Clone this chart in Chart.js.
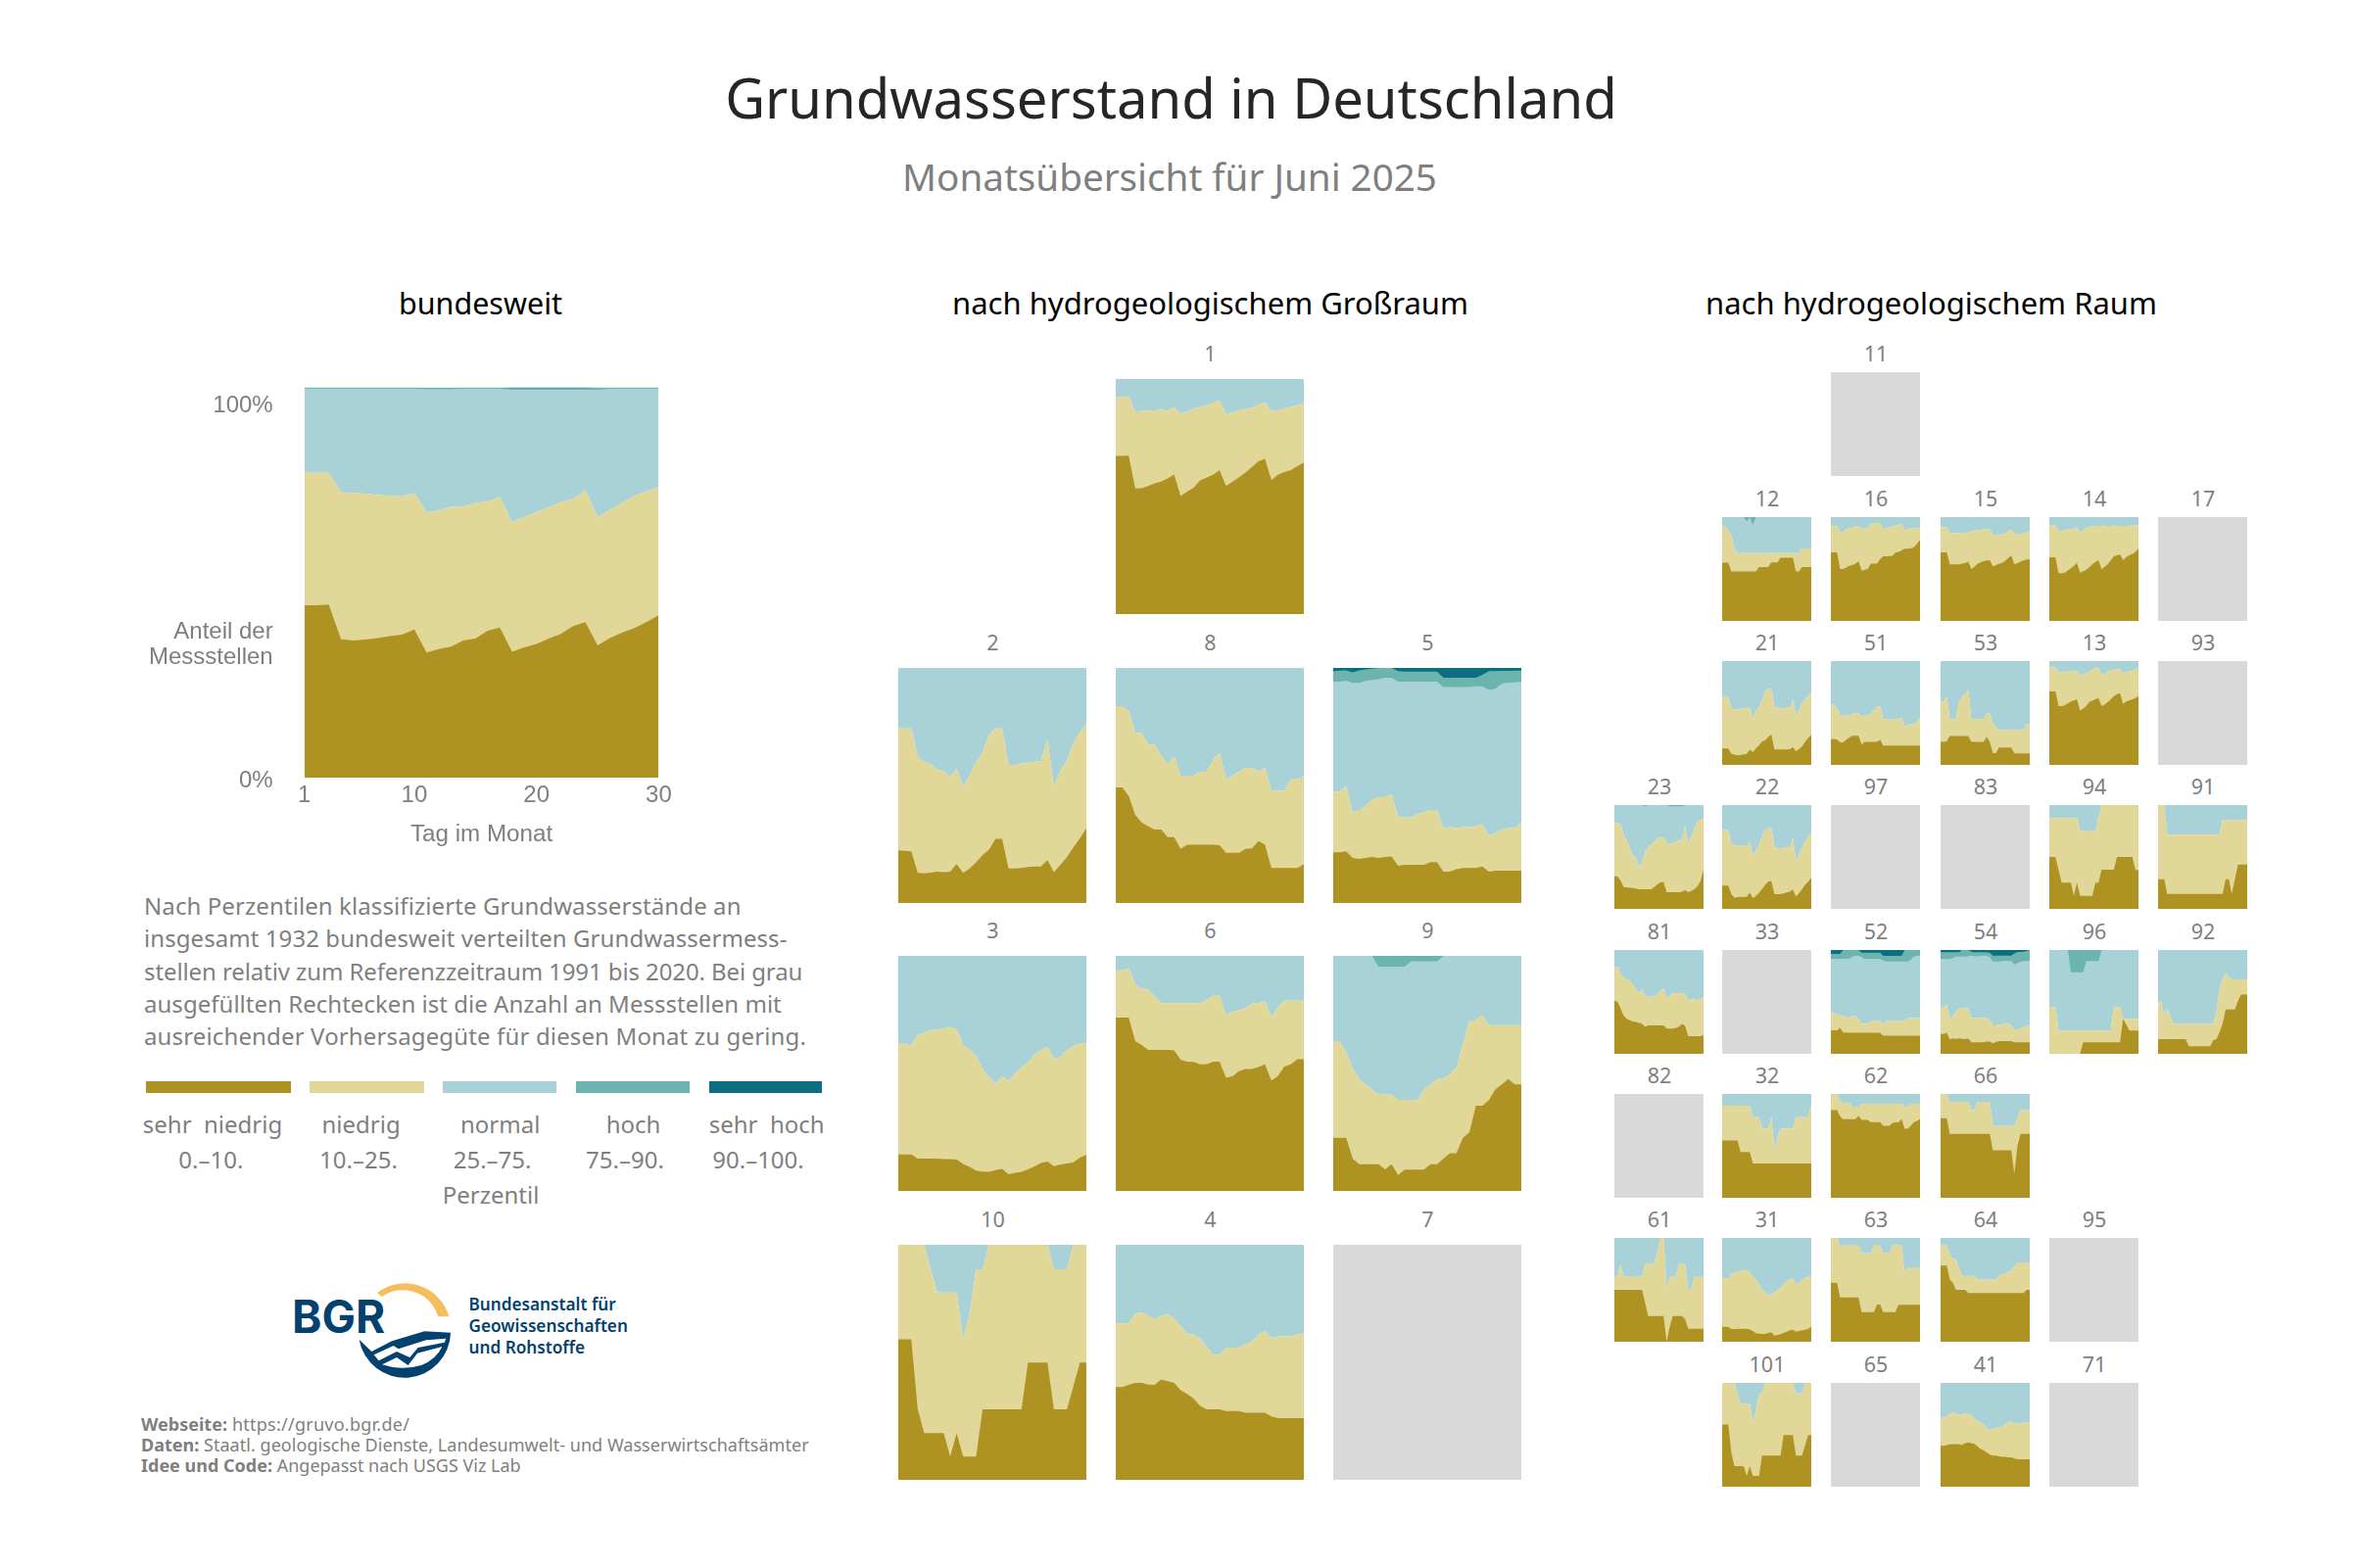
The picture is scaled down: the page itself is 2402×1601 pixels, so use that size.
<!DOCTYPE html>
<html lang="de"><head><meta charset="utf-8"><title>Grundwasserstand in Deutschland</title>
<script src="https://cdn.jsdelivr.net/npm/chart.js@4"></script>
<style>
html,body{margin:0;padding:0;background:#fff}
#page{position:relative;width:2402px;height:1601px;overflow:hidden;background:#fff;font-family:"Noto Sans",sans-serif;color:#7f7f7f}
#page canvas{position:absolute;display:block}
.t{position:absolute;white-space:pre;line-height:1;transform:translate(-50%,-50%)}
.l{position:absolute;white-space:pre;line-height:1;transform:translateY(-50%)}
.bar{position:absolute}
</style></head><body><div id="page"></div>
<script>
// Days of the month
const days = [1,2,3,4,5,6,7,8,9,10,11,12,13,14,15,16,17,18,19,20,21,22,23,24,25,26,27,28,29,30];
// Cumulative share of stations in % per day. a: up to "sehr niedrig", b: up to "niedrig", c: up to "normal", d: up to "hoch".
const natA = [44.2,44.2,44.4,35.5,35.2,35.4,35.8,36.3,36.7,38.0,32.1,33.0,33.6,35.2,35.7,37.7,38.5,32.3,33.4,34.3,35.7,36.9,38.9,39.9,33.9,35.8,37.2,38.4,39.9,41.7];
const natB = [78.1,78.1,78.1,73.1,72.9,72.8,72.4,72.2,72.1,72.9,68.0,68.4,69.5,69.5,70.4,70.8,71.9,65.5,66.7,68.0,69.3,70.6,71.4,73.7,66.7,68.6,70.4,72.2,73.3,74.5];
const natC = [99.6,99.6,99.6,99.6,99.6,99.6,99.6,99.6,99.6,99.6,99.5,99.5,99.5,99.6,99.6,99.6,99.6,99.4,99.4,99.4,99.4,99.4,99.4,99.4,99.4,99.6,99.6,99.6,99.6,99.6];
const natD = [100,100,100,100,100,100,100,100,100,100,100,100,100,100,100,100,100,99.8,99.8,99.8,99.8,99.8,99.8,99.8,100,100,100,100,100,100];

const m1a = [67.3,67.3,67.4,53.4,53.5,54.5,55.6,56.4,57.7,59.4,50.2,52.1,53.7,56.9,58.0,59.3,61.3,54.5,56.4,58.1,60.2,62.5,65.0,66.0,57.0,59.3,60.4,61.3,62.9,64.5];
const m1b = [92.2,92.3,92.5,86.1,86.4,86.7,86.7,86.9,86.6,87.9,85.0,86.1,87.5,88.0,88.8,89.8,90.9,84.8,85.8,86.7,87.2,87.7,89.0,90.1,86.4,86.7,87.5,88.2,88.8,89.8];
const m2a = [22.4,22.2,22.0,12.8,12.6,12.9,13.3,13.1,13.3,16.6,12.8,14.7,17.3,20.4,22.7,27.3,27.3,14.7,14.7,14.9,15.3,15.5,15.5,18.2,13.1,16.3,19.5,23.6,27.5,31.9];
const m2b = [74.3,74.3,74.3,62.3,59.9,59.1,56.7,56.2,53.5,57.2,49.5,54.3,59.9,64.2,71.6,74.3,74.3,58.8,58.8,59.4,59.9,60.1,60.4,69.5,49.8,56.2,60.7,67.9,72.7,75.9];
const m8a = [49.2,49.2,45.5,37.5,34.3,32.6,31.3,31.2,28.0,28.0,23.0,24.8,24.8,24.8,24.8,24.8,24.6,21.4,21.4,21.4,23.0,23.2,26.4,24.8,14.9,14.9,14.9,14.9,14.9,16.5];
const m8b = [83.7,83.7,81.8,72.5,72.2,67.4,67.3,62.6,59.4,62.3,54.2,54.2,54.2,55.8,55.8,60.7,63.9,52.7,54.3,55.9,57.5,57.5,55.9,57.5,47.9,47.8,47.8,52.6,52.6,54.0];
const m5a = [21.6,21.6,22.0,19.2,18.7,19.2,19.6,19.2,19.6,19.8,15.8,16.3,16.3,16.3,16.3,17.4,17.4,13.3,13.3,14.4,14.9,14.9,14.9,15.5,13.3,13.7,13.7,13.7,13.7,13.7];
const m5b = [47.3,47.3,49.8,38.5,39.3,41.2,43.9,45.0,45.0,46.2,36.6,36.6,36.4,37.9,38.5,39.6,39.6,31.8,32.3,31.9,32.3,32.3,32.7,33.5,28.9,29.6,31.2,31.9,31.9,34.0];
const m5c = [94.2,94.2,94.6,93.6,93.6,94.6,94.9,95.2,95.8,95.8,94.2,94.2,94.2,94.2,94.2,94.2,94.2,91.9,91.9,91.9,91.9,91.9,92.2,92.2,90.6,91.1,93.3,93.8,93.9,94.2];
const m5d = [98.6,98.9,99.0,98.1,99.0,99.4,99.7,100,100,100,98.6,98.4,98.4,98.4,98.4,98.4,98.4,95.8,95.8,95.8,95.8,95.8,95.8,97.1,98.6,98.6,98.7,98.7,98.9,98.9];
const m3a = [15.5,15.5,15.5,13.7,13.7,13.8,13.7,13.5,13.5,13.3,11.5,10.2,8.6,8.2,8.1,8.9,9.4,7.1,7.7,8.1,9.2,10.4,11.9,12.5,10.5,11.2,11.7,12.2,14.2,15.3];
const m3b = [62.6,62.6,61.9,66.6,67.2,68.4,68.4,69.2,69.7,68.7,62.1,60.0,57.5,51.7,48.4,45.5,48.8,46.8,49.8,52.6,54.7,58.0,60.0,61.4,56.2,57.0,60.0,61.6,62.6,62.9];
const m6a = [73.8,73.8,73.8,63.8,62.1,60.0,60.0,60.0,60.0,59.8,55.8,55.0,54.9,53.9,53.9,55.0,55.0,48.1,48.8,50.9,51.9,51.9,52.7,53.9,47.0,48.9,52.9,53.9,56.0,56.0];
const m6b = [93.9,93.9,94.7,88.0,86.0,85.8,82.7,79.9,79.9,79.9,79.9,79.9,79.9,79.9,81.1,83.0,83.0,75.1,76.1,76.9,77.8,79.7,79.9,80.7,74.0,78.1,80.9,80.9,80.9,80.9];
const m9a = [22.6,22.6,22.6,13.8,11.4,11.4,11.4,11.4,9.2,11.4,6.8,9.1,9.1,9.1,9.1,11.4,11.4,13.7,16.0,16.0,22.6,24.9,36.2,36.2,38.6,43.2,45.3,47.6,45.3,45.3];
const m9b = [63.4,63.4,59.1,52.1,47.6,45.1,43.2,40.9,40.9,40.9,38.7,38.7,38.7,38.7,43.2,45.1,47.6,47.6,49.8,52.2,62.4,72.5,72.5,74.8,70.5,70.5,70.5,70.5,70.5,70.5];
const m9c = [100,100,100,100,100,100,100,95.4,95.4,95.4,95.4,95.4,97.7,97.7,97.7,97.7,97.7,100,100,100,100,100,100,100,100,100,100,100,100,100];
const m10a = [59.8,59.8,59.8,30.0,19.9,19.9,19.9,19.9,9.9,19.9,9.9,9.9,9.9,30.0,30.0,30.0,30.0,30.0,30.0,30.0,49.9,49.9,49.9,49.9,30.0,30.0,30.0,39.9,49.9,49.9];
const m10b = [100,100,100,100,100,89.6,79.7,79.7,79.7,79.7,60.0,70.7,89.6,89.6,100,100,100,100,100,100,100,100,100,100,89.6,89.6,89.6,100,100,100];
const m4a = [39.5,39.5,40.4,41.2,41.2,40.5,40.4,42.7,42.0,41.2,38.1,36.6,34.6,31.5,30.0,30.0,30.0,29.3,29.3,29.3,28.5,28.5,28.5,28.5,27.0,26.2,26.2,26.2,26.2,26.2];
const m4b = [66.6,66.6,66.6,70.7,71.2,69.9,68.2,69.9,70.3,68.7,65.4,62.4,61.9,60.0,56.7,53.2,53.2,56.2,56.2,56.2,57.8,58.8,61.8,63.3,60.3,61.0,61.1,61.1,61.8,62.4];

const s12a = [56.1,56.1,56.1,47.6,47.6,47.6,47.6,47.6,47.6,47.6,47.6,47.6,52,52,52,52,56.4,56.4,56.4,60.8,60.8,60.8,60.8,60.8,47.6,47.6,52,52,52,52];
const s12b = [91.2,91.2,86.8,82.7,69.5,65.4,65.4,65.4,65.4,65.4,65.4,65.4,65.4,65.4,65.4,65.4,65.4,65.4,65.4,65.4,65.4,65.4,65.4,65.4,65.4,65.4,69.8,69.8,69.8,69.8];
const s12c = [100,100,100,100,100,100,100,100,95.9,100,92.1,100,100,100,100,100,100,100,100,100,100,100,100,100,100,100,100,100,100,100];
const s16a = [66,66,66,50,50,51.3,53.1,53.8,55.3,57.5,48.4,49.4,50,55.3,55.3,55.3,59.4,62.3,62.3,62.6,62.6,65.7,66.4,67.9,69.5,69.5,69.8,71.1,74.2,78];
const s16b = [91.2,91.2,91.2,85.2,86.2,88.4,89.3,89.9,91.5,90.9,89,89,89.3,93.1,94,94.3,94.3,88.4,89.3,89.9,90.9,91.8,92.5,93.7,87.4,88.4,89.3,89.3,89.3,89.3];
const s15a = [66,66,66,54.4,54.4,54.4,54.4,55.3,56,57,50,52.2,55,56.3,57.6,58.2,58.5,52.5,53.8,55,56,57.9,60.7,62.9,54.4,55.7,57,58.2,59.1,59.1];
const s15b = [90.3,90.3,90.3,84.6,84.6,84.6,84.6,84.9,84.9,85.2,85.8,87.1,87.4,87.7,88.1,88.4,88.4,82.7,83,83.3,83.3,84.6,86.5,87.4,84,84,84,84.3,85.2,86.5];
const s14a = [61.3,61.3,61.3,45.9,45.9,46.5,48.4,50.6,53.1,56,46.5,47.8,49,51.9,54.4,56.9,58.5,49.7,52.2,54.4,58.5,62.3,63.2,63.9,58.5,61.3,63.2,64.5,66.4,69.5];
const s14b = [92.1,92.1,92.1,86.8,86.8,87.4,88.1,88.4,89,90.3,84.9,87.4,89.9,90.6,91.2,91.5,91.5,91.5,91.8,91.5,91.5,91.8,91.5,91.5,91.5,91.5,91.8,91.8,92.1,92.1];
const s21a = [15.8,15.8,15.8,10.7,9.8,9.1,9.5,10.1,10.7,14.8,12.3,15.8,18.9,22.7,23.7,26.8,29.3,14.8,14.8,14.8,14.8,14.8,15.1,17,13.2,15.1,17.9,22.1,25.9,29];
const s21b = [65.3,65.3,65.3,54.3,53.6,53.6,53.9,54.6,54.9,54.9,45.7,51.1,55.8,62.1,70.7,73.2,73.8,55.5,54.9,54.6,54.6,54.9,55.5,63.1,47.9,52.7,59,63.1,66.2,70];
const s51a = [24.9,24.9,24.3,21.8,21.8,24.3,26.5,28.1,28.1,28.1,19.6,22.1,22.1,22.1,22.1,22.1,24.3,18.6,18.6,18.6,18.6,18.6,18.6,18.6,18.6,18.6,18.6,18.6,18.6,18.6];
const s51b = [59,58,54.3,47.3,47.3,47.3,47.3,49,50.2,49.6,47.3,47.3,47.3,49.6,52.7,55.9,56.5,43.8,43.8,43.8,43.8,43.8,43.8,45.5,37.5,38.5,39.1,39.4,41.6,45.7];
const s53a = [22.1,22.1,22.7,27.8,27.8,27.8,27.8,27.8,27.8,27.8,22.4,22.1,22.1,22.1,22.1,27.1,22.1,11.4,11.4,16.7,16.7,16.7,16.7,16.7,11,11,11,11,11,11];
const s53b = [61.2,61.2,66.2,44.2,44.2,44.2,60.3,66.2,67.4,72.2,44.2,44.2,44.2,44.2,44.2,49.8,49.8,39.4,36.3,33.4,33.4,33.4,33.4,33.4,33.4,33.4,33.4,33.4,39.1,39.1];
const s13a = [70.7,70.7,70.7,56.5,56.5,57.4,59.3,61.2,62.1,63.1,52.1,54.3,56.5,60.6,61.8,63.1,64.4,56.5,58,60.6,63.1,66.2,68.1,69.1,58.4,61.2,62.1,63.1,64.4,66.2];
const s13b = [94.6,94.6,94,89.6,89.6,89.9,89.9,89.9,90.2,90.5,86.1,87.1,88.3,89.9,91.5,93.1,93.7,86.4,88,89.9,90.5,91.5,92.4,92.7,88.3,89.3,90.2,90.9,92.1,93.7];
const s23a = [31.4,31.4,27.3,21.1,20.8,20.4,20.1,19.5,18.9,18.9,18.9,18.9,18.9,21.1,23.6,25.8,25.8,16,16,16,16,16,16.4,18.2,16,17.3,18.9,21.7,26.7,37.7];
const s23b = [82.7,82.7,81.8,70.8,66,58.2,51.3,49.4,40.6,44,55,60.4,61.3,65.1,67.6,68.9,68.9,62.9,62.9,63.5,65.1,65.7,66.4,80.2,63.5,69.2,77,84,85.8,87.1];
const s23c = [100,100,100,100,100,100,100,100,100,100,98.9,100,100,100,100,100,100,100,98.9,98.9,98.9,98.9,98.9,100,100,100,100,100,100,100];
const s22a = [22.3,22.3,22.3,14.2,10.7,11.3,11.6,11.6,11.6,15.7,10.4,12.6,15.4,19.2,23,26.4,26.7,14.2,14.2,14.2,14.8,15.7,16.4,18.6,11.9,15.1,18.9,23,26.1,29.9];
const s22b = [76.1,76.1,75.5,62.9,60.7,61.3,61.3,60.7,60.4,64.5,51.3,56.6,61.3,69.2,75.5,77.7,77.7,59.1,58.5,58.5,58.8,59.1,59.4,68.2,45.6,51.9,58.8,64.5,69.2,73];
const s94a = [50,50,50,37.7,25.2,25.2,25.2,25.2,12.6,25.2,12.6,12.6,12.6,12.6,12.6,25.2,25.2,37.7,37.7,37.7,37.7,37.7,50,50,50,50,50,50,37.4,37.4];
const s94b = [87.4,87.4,87.4,87.4,87.4,87.4,87.4,87.4,87.4,87.4,74.8,74.8,74.8,74.8,74.8,74.8,87.4,100,100,100,100,100,100,100,100,100,100,100,100,100];
const s91a = [28.6,28.6,28.6,14.5,14.5,14.5,14.5,14.5,14.5,14.5,14.5,14.5,14.5,14.5,14.5,14.5,14.5,14.5,14.5,14.5,14.5,14.5,28.6,28.6,14.5,28.6,42.8,42.8,42.8,42.8];
const s91b = [100,100,100,71.4,71.4,71.4,71.4,71.4,71.4,71.4,71.4,71.4,71.4,71.4,71.4,71.4,71.4,71.4,71.4,71.4,71.4,85.5,85.5,85.5,85.5,85.5,85.5,85.5,85.5,85.5];
const s81a = [51.1,50.2,43.8,36.9,33.8,32.2,31.2,30.6,29.7,29.1,25.9,27.4,27.4,27.4,27.4,27.4,27.4,24.3,24.3,24.3,24.9,26.2,28.7,26.8,17,17,17,17,17,18];
const s81b = [83.6,83.6,77.9,72.9,71.6,70,66.9,62.1,58.4,62.1,54.9,54.9,54.9,55.2,57.4,60.6,63.1,53.3,55.8,58,58.4,58.4,58,57.7,51.1,52.1,53.3,51.1,52.7,53.6];
const s52a = [22.7,22.7,22.7,24.9,20.5,20.2,20.2,20.2,20.2,20.2,20.2,20.2,20.2,20.2,20.2,20.2,20.2,17.4,17.4,17.4,17.4,17.4,17.4,17.4,17.4,17.4,17.4,17.4,17.4,17.4];
const s52b = [40.1,39.1,38.2,36.9,36.3,35.3,35,36.9,36,33.8,29,29,29,31.2,31.5,31.5,31.5,28.4,31.5,31.5,31.5,31.5,31.5,31.5,31.5,34.4,34.4,34.4,34.4,34.4];
const s52c = [91.5,91.5,91.5,91.5,91.5,91.5,91.8,93.7,94.6,94.6,93.1,91.5,91.5,91.5,91.5,91.5,91.5,89.9,89,89,89,89,89,89,89,89,90.5,93.7,94.6,94.6];
const s52d = [96.2,96.2,96.2,96.2,100,100,100,100,100,100,97.5,97.5,97.5,97.5,97.5,97.5,97.5,94.3,94.3,94.3,94.3,94.3,94.3,94.3,100,100,100,100,100,100];
const s54a = [19.2,19.2,20.2,13.9,14.8,14.5,14.8,14.5,14.2,14.8,11,11,11,11,11,11.7,11.7,10.1,11.4,12.3,12.3,12.3,12.3,12.3,11,11,11,11,11,11];
const s54b = [43.2,44.8,47.3,33.8,35.3,41,43.2,43.8,43.8,43.8,34.4,34.4,34.4,34.4,34.4,34.4,31.9,27.4,27.4,28.1,28.4,29,29.7,27.4,22.7,23.7,24.3,25.6,26.5,27.4];
const s54c = [91.5,91.5,91.2,91.5,92.1,93.7,93.7,93.7,93.7,94,94.6,94,93.7,94.3,94.6,94.6,93.1,89,89,89,89.3,89.3,89.6,89.3,86.1,87.4,88.6,89.3,89.3,89.6];
const s54d = [97.8,97.8,97.8,97.8,97.8,97.8,97.8,100,100,100,98.4,97.8,97.8,97.8,97.8,97.8,97.5,94.6,94.6,94.6,94.6,94.6,94.6,94.6,96.8,98.1,98.1,98.4,99,100];
const s96a = [0,0,0,0,0,0,0,0,0,0,0,11,11,11,11,11,11,11,11,11,11,11,11,11,33.8,28.4,22.4,22.4,22.4,22.4];
const s96b = [44.8,44.8,44.8,22.4,22.4,22.4,22.4,22.4,22.4,22.4,22.4,22.4,22.4,22.4,22.4,22.4,22.4,22.4,22.4,22.4,22.4,44.8,44.8,44.8,33.8,33.8,33.8,33.8,33.8,33.8];
const s96c = [100,100,100,100,100,100,100,78.5,78.5,78.5,78.5,78.5,89.3,89.3,89.3,89.3,89.3,100,100,100,100,100,100,100,100,100,100,100,100,100];
const s92a = [14.2,14.2,14.2,14.2,14.2,14.2,14.2,14.2,14.2,14.2,7.3,7.3,7.3,7.3,7.3,7.3,7.3,7.3,13.2,14.2,21.1,29,42.6,42.6,42.6,42.6,51,57.1,57.1,57.1];
const s92b = [50.2,50.2,37.5,43.2,35.3,29,29,29,29,29,29,29,29,29,29,29,29,29,29,40,62.1,71.6,77.9,73.2,71.6,71.6,71.6,71.6,71.6,71.6];
const s32a = [55.2,55.2,55.2,55.2,55.2,55.2,44.2,44.2,44.2,44.2,33.1,33.1,33.1,33.1,33.1,33.1,33.1,33.1,33.1,33.1,33.1,33.1,33.1,33.1,33.1,33.1,33.1,33.1,33.1,33.1];
const s32b = [88.6,88.6,88.6,88.6,88.6,88.6,88.6,88.6,88.6,88.6,77.6,77.6,77.6,66.6,66.6,66.6,77.6,46.7,57.7,66.6,66.6,66.6,66.6,66.6,77.6,77.6,77.6,77.6,77.6,88.6];
const s62a = [84.5,84.5,84.5,78.2,75.7,75.7,75.7,75.7,75.7,78.9,75.1,75.1,75.1,72.9,72.9,72.9,72.9,69.4,69.4,69.4,71.9,72.6,72.6,75.7,66.6,66.6,69.4,72.6,74.1,75.7];
const s62b = [100,100,100,92.4,91.5,91.5,91.5,87.7,87.7,87.7,90.5,90.5,90.5,90.5,90.5,90.5,90.5,90.5,90.5,90.5,90.5,90.5,90.5,90.5,87.7,87.7,90.5,90.5,90.5,90.5];
const s66a = [76.7,76.7,76.7,61.5,61.5,61.5,61.5,61.5,61.5,61.5,61.5,61.5,61.5,61.5,61.5,61.5,61.5,45.7,45.7,45.7,45.7,45.7,45.7,45.7,23,49.8,61.5,61.5,61.5,61.5];
const s66b = [100,100,100,92.4,92.4,92.4,92.4,92.4,92.4,92.4,84.5,84.5,92.4,92.4,92.4,92.4,92.4,69.1,69.1,69.1,69.1,69.1,69.1,69.1,69.1,76.7,84.5,84.5,84.5,84.5];
const s61a = [50,50,50,50,50,50,50,50,50,50,37.4,24.8,24.8,24.8,24.8,24.8,24.8,0,14.5,24.8,24.8,24.8,24.8,21.7,12.6,12.6,12.6,12.6,12.6,12.6];
const s61b = [62.6,62.6,74.2,62.6,62.6,62.6,62.6,62.6,62.6,62.6,74.8,74.8,74.8,74.8,86.8,100,100,50.6,62.6,62.6,62.6,74.8,74.8,74.8,50,50,62.6,62.6,62.6,62.6];
const s31a = [14.5,14.5,14.5,12.3,12.3,12.6,12.6,12.6,12.6,11.9,10.4,8.2,7.9,7.5,7.5,8.5,9.1,6,6.6,7.2,8.5,9.7,11,11.6,9.7,10.4,11,11.6,12.6,14.5];
const s31b = [61,61,60.4,65.4,67,67.2,68.2,68.9,69.2,67,62.6,60.1,55.3,50.5,47.2,45.2,46.8,47.2,49.8,52,55.3,58.5,60.1,61,55.3,56.3,59.4,61.6,62.6,62.6];
const s63a = [56.9,56.9,56.9,42.8,42.8,42.8,42.8,42.8,42.8,42.8,28.6,28.6,28.6,28.6,28.6,35.8,35.8,28.6,28.6,28.6,28.6,28.6,35.5,35.5,35.5,35.5,35.5,35.5,35.5,35.5];
const s63b = [100,100,100,92.8,92.8,92.8,92.8,92.8,92.8,92.8,85.2,85.2,85.2,85.2,92.8,92.8,92.8,85.2,85.2,85.2,92.8,92.8,92.8,92.8,66.4,71.1,71.1,71.1,71.1,71.1];
const s64a = [73.3,73.3,73.3,60,56.9,50,50,50,50,46.9,46.9,46.9,46.9,46.9,46.9,46.9,46.9,46.9,46.9,46.9,46.9,46.9,46.9,46.9,46.9,46.9,46.9,46.9,50,50];
const s64b = [92.8,92.8,92.8,83.6,79.9,79.6,69.8,63.5,63.5,63.5,63.5,63.5,60,60,60,60,60,60,60,63.5,64.8,65.7,67.3,68.9,72,76.4,76.4,76.4,76.4,76.4];
const s101a = [59.9,59.9,59.9,32.5,19.9,19.9,19.9,19.9,10.4,19.9,10.4,10.4,10.4,30,30,30,30,30,30,30,49.8,49.8,49.8,49.8,30,30,30,40,49.8,49.8];
const s101b = [100,100,100,100,100,89.9,79.8,79.8,79.8,79.8,61.8,73.5,89.9,89.9,100,100,100,100,100,100,100,100,100,100,89.9,89.9,89.9,100,100,100];
const s41a = [39.4,39.4,40,40.7,41,41,40.7,40.4,42,42.6,42,41.3,38.9,36.3,35,33.1,30.9,29.9,29.9,29.3,28.7,28.7,28.4,28.4,27.1,26.5,26.5,26.5,26.5,26.5];
const s41b = [66.2,66.2,67.2,70.3,71.6,70.3,69.4,69.7,70.3,70,68.8,65.6,63.4,61.5,59.6,57.1,53.9,56.1,56.8,57.1,57.7,59.9,62.5,62.8,60.9,60.9,61.2,61.5,62.1,62.5];

// Axis tick labels
const yTickValues = [-0.7, 34, 95.2];
const yTickLabels = ['0%', ['Anteil der','Messstellen'], '100%'];
const xTickDays = [1, 10, 20, 30];
// Legend
const classNames = ['sehr  niedrig','niedrig','normal','hoch','sehr  hoch'];
const classRanges = ['0.–10.','10.–25.','25.–75.','75.–90.','90.–100.'];
const classColors = ['#ae9322','#e0d798','#a9d2d8','#6cb5ae','#0b6f81'];

const page = document.getElementById('page');
const GREY = '#d9d9d9', TXT = '#7f7f7f';
function text(cls, s, x, y, size, extra){
  const d = document.createElement('div');
  d.className = cls; d.textContent = s;
  d.style.left = x+'px'; d.style.top = y+'px'; d.style.fontSize = size+'px';
  if (extra) Object.assign(d.style, extra);
  page.appendChild(d); return d;
}
function rich(parts, x, y, size){
  const d = document.createElement('div');
  d.className = 'l'; d.style.left = x+'px'; d.style.top = y+'px'; d.style.fontSize = size+'px';
  parts.forEach(p => { const s = document.createElement('span'); s.textContent = p[0]; if (p[1]) s.style.fontWeight = 700; if (p[2]) s.style.letterSpacing = p[2]+'px'; d.appendChild(s); });
  page.appendChild(d);
}
function datasets(a, b, c, d){
  const line = {borderWidth:0, pointRadius:0, tension:0};
  const out = [
    {...line, data:a, fill:'origin', backgroundColor:classColors[0], order:1},
    {...line, data:b, fill:'origin', backgroundColor:classColors[1], order:2},
    {...line, data:b, fill:'end', backgroundColor:classColors[2], order:5}
  ];
  if (c) out.push({...line, data:c, fill:'end', backgroundColor:classColors[3], order:4});
  if (d) out.push({...line, data:d, fill:'end', backgroundColor:classColors[4], order:3});
  return out;
}
const greyPlugin = {id:'noData', beforeDraw(ch, args, o){
  if (!o.on) return; const a = ch.chartArea; ch.ctx.fillStyle = GREY; ch.ctx.fillRect(a.left, a.top, a.width, a.height);
}};
Chart.register(greyPlugin);
function panel(label, x, y, w, h, series, labelDy, labelSize){
  const c = document.createElement('canvas');
  c.width = w; c.height = h; c.style.left = x+'px'; c.style.top = y+'px'; c.style.width = w+'px'; c.style.height = h+'px';
  page.appendChild(c);
  new Chart(c, {type:'line',
    data:{labels:days, datasets: series ? datasets(...series) : []},
    options:{responsive:false, animation:false, devicePixelRatio:1,
      layout:{padding:0},
      plugins:{legend:{display:false}, tooltip:{enabled:false}, noData:{on:!series}},
      scales:{x:{display:false, type:'category'}, y:{display:false, min:0, max:100}}}});
  text('t', label, x+w/2+0.5, y-labelDy, labelSize);
}

// Headings
text('t','Grundwasserstand in Deutschland',1195.5,99,56.2,{color:'#262626'});
text('t','Monatsübersicht für Juni 2025',1194,180,38.6,{color:TXT});
text('t','bundesweit',490.5,308.5,30.5,{color:'#000'});
text('t','nach hydrogeologischem Großraum',1235.5,308.5,31,{color:'#000'});
text('t','nach hydrogeologischem Raum',1971.5,308.5,31,{color:'#000'});

// National chart
(function(){
  const L=140, T=385, W=580, H=500;
  const c = document.createElement('canvas');
  c.width=W; c.height=H; c.style.left=L+'px'; c.style.top=T+'px'; c.style.width=W+'px'; c.style.height=H+'px';
  page.appendChild(c);
  const tf = {family:'"Liberation Sans", Arial, sans-serif', size:24};
  new Chart(c, {type:'line',
    data:{labels:days, datasets:datasets(natA, natB, natC, natD)},
    options:{responsive:false, animation:false, devicePixelRatio:1,
      layout:{padding:{top:10.5, right:W-(672.4-L), left:0, bottom:0}},
      plugins:{legend:{display:false}, tooltip:{enabled:false}},
      scales:{
        x:{type:'category', grid:{display:false, drawTicks:false}, border:{display:false},
          ticks:{autoSkip:false, maxRotation:0, minRotation:0, padding:4, color:TXT, font:tf,
            callback(v){ const d = days[v]; return xTickDays.includes(d) ? String(d) : ''; }},
          title:{display:true, text:'Tag im Monat', color:TXT, font:{...tf, size:24.2}, padding:{top:14,bottom:18}},
          afterFit(s){ s.height = T+H-794.3; s.paddingLeft = 0; s.paddingRight = 0; }},
        y:{min:0, max:100, grid:{display:false, drawTicks:false}, border:{display:false},
          afterBuildTicks(s){ s.ticks = yTickValues.map(v=>({value:v})); },
          ticks:{autoSkip:false, padding:32, color:TXT, font:{...tf, lineHeight:1.08},
            callback(v){ return yTickLabels[yTickValues.indexOf(v)]; }},
          afterFit(s){ s.width = 310.7-L; s.paddingTop = 0; s.paddingBottom = 0; }}
      }}});
})();

// Large panels
const mX=[917,1139,1361], mY=[387,682,976,1271];
[['1',1,0,[m1a,m1b]],
 ['2',0,1,[m2a,m2b]],['8',1,1,[m8a,m8b]],['5',2,1,[m5a,m5b,m5c,m5d]],
 ['3',0,2,[m3a,m3b]],['6',1,2,[m6a,m6b]],['9',2,2,[m9a,m9b,m9c]],
 ['10',0,3,[m10a,m10b]],['4',1,3,[m4a,m4b]],['7',2,3,null]
].forEach(p => panel(p[0], mX[p[1]], mY[p[2]], 192, 240, p[3], 26.5, 21.5));

// Small panels
const sX=[1648,1758,1869,1981,2092,2203], sY=[380,528,675,822,970,1117,1264,1412];
[['11',2,0,null],
 ['12',1,1,[s12a,s12b,s12c]],['16',2,1,[s16a,s16b]],['15',3,1,[s15a,s15b]],['14',4,1,[s14a,s14b]],['17',5,1,null],
 ['21',1,2,[s21a,s21b]],['51',2,2,[s51a,s51b]],['53',3,2,[s53a,s53b]],['13',4,2,[s13a,s13b]],['93',5,2,null],
 ['23',0,3,[s23a,s23b,s23c]],['22',1,3,[s22a,s22b]],['97',2,3,null],['83',3,3,null],['94',4,3,[s94a,s94b]],['91',5,3,[s91a,s91b]],
 ['81',0,4,[s81a,s81b]],['33',1,4,null],['52',2,4,[s52a,s52b,s52c,s52d]],['54',3,4,[s54a,s54b,s54c,s54d]],['96',4,4,[s96a,s96b,s96c]],['92',5,4,[s92a,s92b]],
 ['82',0,5,null],['32',1,5,[s32a,s32b]],['62',2,5,[s62a,s62b]],['66',3,5,[s66a,s66b]],
 ['61',0,6,[s61a,s61b]],['31',1,6,[s31a,s31b]],['63',2,6,[s63a,s63b]],['64',3,6,[s64a,s64b]],['95',4,6,null],
 ['101',1,7,[s101a,s101b]],['65',2,7,null],['41',3,7,[s41a,s41b]],['71',4,7,null]
].forEach(p => panel(p[0], sX[p[1]], sY[p[2]], 91, 106, p[3], 19.5, 21.5));

// Description
['Nach Perzentilen klassifizierte Grundwasserstände an',
 'insgesamt 1932 bundesweit verteilten Grundwassermess-',
 'stellen relativ zum Referenzzeitraum 1991 bis 2020. Bei grau',
 'ausgefüllten Rechtecken ist die Anzahl an Messstellen mit',
 'ausreichender Vorhersagegüte für diesen Monat zu gering.'
].forEach((s,i)=> text('l', s, 147, [924.5,958.4,991.8,1024.5,1058][i], 24, {letterSpacing:[.09,.07,-.1,.03,.14][i]+'px'}));

// Legend
const barX=[[148.5,297],[316.3,432.7],[452,568],[587.8,703.6],[723.5,839.3]];
const nameX=[217,368.6,510.7,646.5,782.7], rangeX=[215.3,366,502.6,638,774];
classColors.forEach((col,i)=>{
  const b=document.createElement('div'); b.className='bar'; b.style.cssText=`left:${barX[i][0]}px;top:1104px;width:${barX[i][1]-barX[i][0]}px;height:12.3px;background:${col}`;
  page.appendChild(b);
  text('t', classNames[i], nameX[i], 1148, 24);
  text('t', classRanges[i], rangeX[i], 1184, 24);
});
text('t','Perzentil',501,1220,24);

// Logo
page.insertAdjacentHTML('beforeend', `<svg style="position:absolute;left:290px;top:1300px" width="360" height="120" viewBox="0 0 1080 360" xmlns="http://www.w3.org/2000/svg">
<path d="M285 60 A140 140 0 0 1 505 133 L472 133 A112 112 0 0 0 300 72 Z" fill="#f5bd5b"/>
<path d="M230 203 A141 141 0 0 0 510 182 L430 178 L330 208 L268 240 Z" fill="#03426f"/>
<path d="M275 250 L335 222 L350 232 L435 205 L496 200 L491 212 L410 228 L385 258 L345 240 L290 268 Z" fill="#fff"/>
<path d="M300 280 L345 258 L380 282 L408 245 L484 225 Q465 265 420 282 Q360 300 300 280 Z" fill="#fff"/>
</svg>`);
text('l','BGR',298,1344,46,{fontFamily:'Inter, "Noto Sans", sans-serif',fontWeight:700,color:'#03426f'});
['Bundesanstalt für','Geowissenschaften','und Rohstoffe'].forEach((s,i)=>
  text('l', s, 478.5, [1332,1354,1376][i], 17.2, {fontWeight:600,color:'#03426f'}));

// Sources
rich([['Webseite:',1],[' https://gruvo.bgr.de/',0,.25]],144,1454,18);
rich([['Daten:',1],[' Staatl. geologische Dienste, Landesumwelt- und Wasserwirtschaftsämter',0,.04]],144,1475,18);
rich([['Idee und Code:',1],[' Angepasst nach USGS Viz Lab',0]],144,1496,18);
</script></body></html>
